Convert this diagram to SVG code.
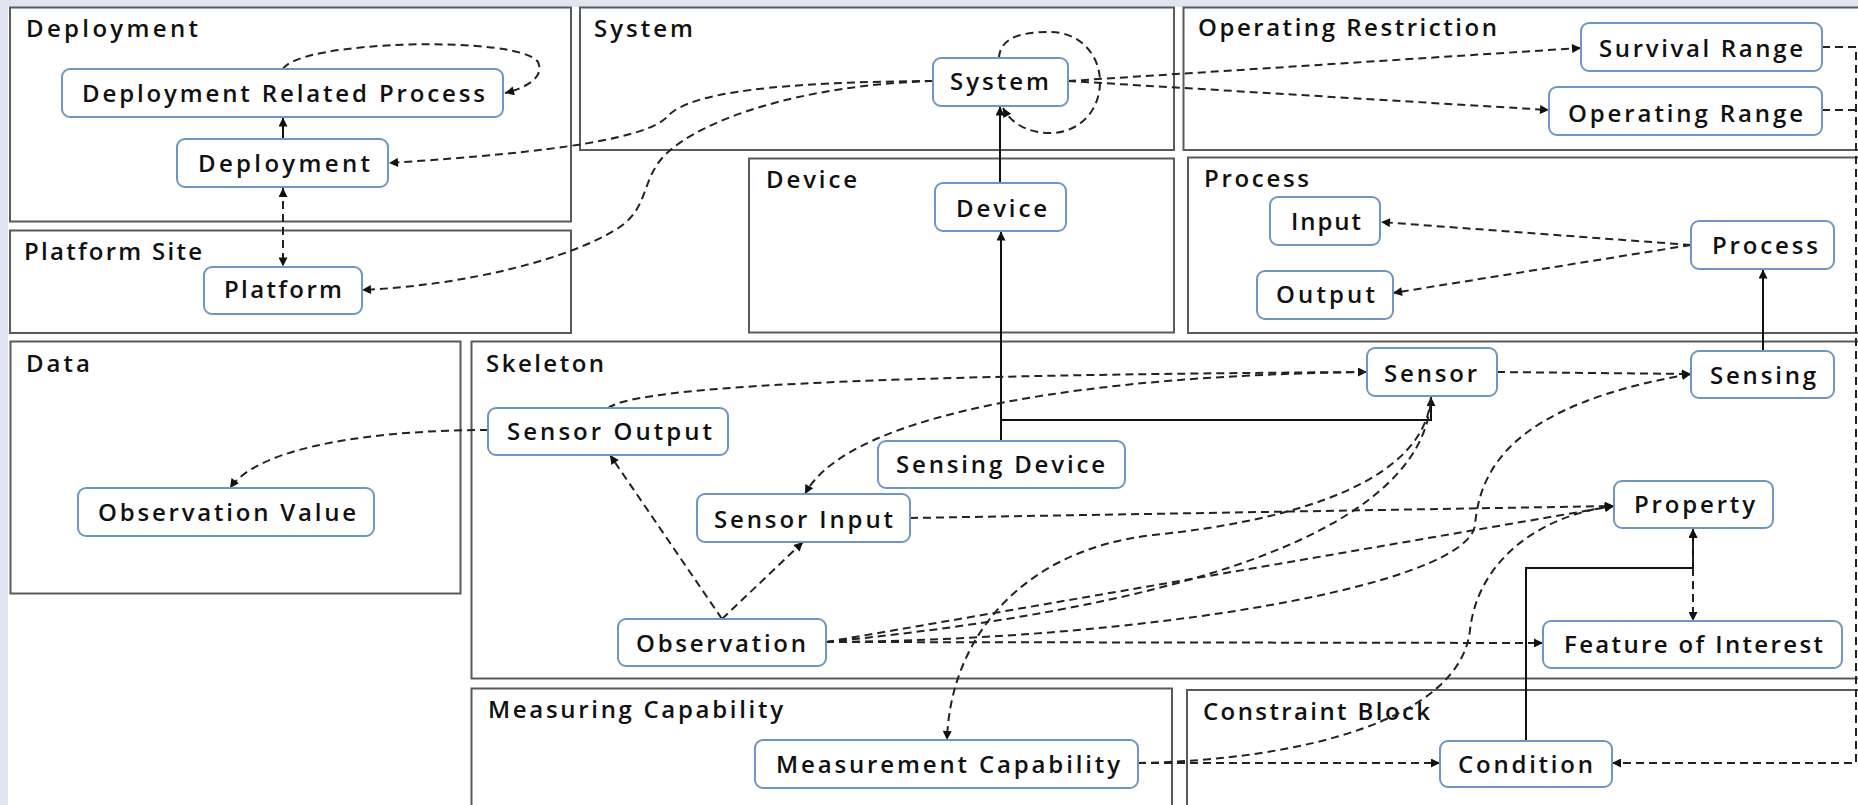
<svg xmlns="http://www.w3.org/2000/svg" width="1858" height="805" viewBox="0 0 1858 805">
<style>
.box{fill:none;stroke:#5a5a5a;stroke-width:2}
.lbl{font-family:"Open Sans","Liberation Sans",sans-serif;font-size:24px;font-weight:600;fill:#111}
.node rect{fill:#fff;stroke:#6f95c2;stroke-width:2}
.node text{font-family:"Open Sans","Liberation Sans",sans-serif;font-size:24px;font-weight:600;fill:#111}
.d{fill:none;stroke:#222;stroke-width:2;stroke-dasharray:8 5}
.s{fill:none;stroke:#111;stroke-width:2}
</style>
<defs>
<marker id="a" viewBox="0 0 10 10" refX="10" refY="5" markerWidth="11" markerHeight="9" markerUnits="userSpaceOnUse" orient="auto-start-reverse">
<path d="M0,0 L10,5 L0,10 z" fill="#111" stroke="none"/>
</marker>
</defs>
<rect x="0" y="0" width="1858" height="805" fill="#e2e5f0"/>
<rect x="8" y="7" width="1850" height="798" fill="#fff"/>
<g id="containers">
<rect class="box" x="10" y="7.5" width="561" height="214"/>
<text class="lbl" x="26" y="37" textLength="172" lengthAdjust="spacing">Deployment</text>
<rect class="box" x="10" y="230.5" width="561" height="102.5"/>
<text class="lbl" x="24" y="260" textLength="178" lengthAdjust="spacing">Platform Site</text>
<rect class="box" x="580" y="7.5" width="594" height="142.5"/>
<text class="lbl" x="594" y="37" textLength="99" lengthAdjust="spacing">System</text>
<rect class="box" x="749" y="158.5" width="425" height="174"/>
<text class="lbl" x="766" y="188" textLength="91" lengthAdjust="spacing">Device</text>
<rect class="box" x="1183.5" y="7.5" width="700" height="142.5"/>
<text class="lbl" x="1198" y="36" textLength="299" lengthAdjust="spacing">Operating Restriction</text>
<rect class="box" x="1188" y="157.5" width="700" height="175.5"/>
<text class="lbl" x="1204" y="187" textLength="105" lengthAdjust="spacing">Process</text>
<rect class="box" x="10.5" y="341.5" width="450" height="252"/>
<text class="lbl" x="26" y="372" textLength="64" lengthAdjust="spacing">Data</text>
<rect class="box" x="471.5" y="341.5" width="1420" height="337"/>
<text class="lbl" x="486" y="372" textLength="118" lengthAdjust="spacing">Skeleton</text>
<rect class="box" x="471.5" y="688.5" width="700.5" height="140"/>
<text class="lbl" x="488" y="718" textLength="295" lengthAdjust="spacing">Measuring Capability</text>
<rect class="box" x="1187" y="690" width="700" height="140"/>
<text class="lbl" x="1203" y="720" textLength="227" lengthAdjust="spacing">Constraint Block</text>
</g>
<g id="connectors">
<path class="d" d="M283,69 C300,40 520,35 538,62 C545,78 525,88 505,93" marker-end="url(#a)"/>
<path class="s" d="M283,139 V117.5" marker-end="url(#a)"/>
<path class="d" d="M283,188 V266.5" marker-start="url(#a)" marker-end="url(#a)"/>
<path class="d" d="M933,81 C780,82 690,92 668,116 C648,138 560,152 389,163" marker-end="url(#a)"/>
<path class="d" d="M933,81 C800,85 700,120 665,155 C640,180 650,210 615,230 C570,258 470,285 362,290" marker-end="url(#a)"/>
<path class="d" d="M999,58 C1000,34 1030,32 1050,32 C1080,32 1100,55 1100,82 C1100,110 1080,133 1050,133 C1030,133 1012,125 1003,108" marker-end="url(#a)"/>
<path class="s" d="M1000,183 V106.5" marker-end="url(#a)"/>
<path class="d" d="M1068,81 L1581,48" marker-end="url(#a)"/>
<path class="d" d="M1068,81 L1549,110" marker-end="url(#a)"/>
<path class="d" d="M1822,47 H1856 V763 H1612" marker-end="url(#a)"/>
<path class="d" d="M1822,110 H1856"/>
<path class="d" d="M1691,245 L1381,222" marker-end="url(#a)"/>
<path class="d" d="M1691,245 L1393,293" marker-end="url(#a)"/>
<path class="s" d="M1763,351 V269.5" marker-end="url(#a)"/>
<path class="s" d="M1001,441 V231.5" marker-end="url(#a)"/>
<path class="s" d="M1001,420 H1431 V397" marker-end="url(#a)"/>
<path class="d" d="M1497,372 L1691,374" marker-end="url(#a)"/>
<path class="d" d="M488,430 C380,430 260,445 230,488" marker-end="url(#a)"/>
<path class="d" d="M608,408 C640,385 900,375 1367,372" marker-end="url(#a)"/>
<path class="d" d="M1367,372 C1100,375 850,410 805,494" marker-end="url(#a)"/>
<path class="d" d="M722,619 L610,455" marker-end="url(#a)"/>
<path class="d" d="M722,619 L803,542" marker-end="url(#a)"/>
<path class="d" d="M910,518 L1614,506" marker-end="url(#a)"/>
<path class="d" d="M826,642 C1150,610 1425,540 1431,397"/>
<path class="d" d="M826,642 L1614,506" marker-end="url(#a)"/>
<path class="d" d="M826,642 C1150,640 1468,585 1475,525 C1480,470 1510,405 1691,374" marker-end="url(#a)"/>
<path class="d" d="M826,642 L1543,643" marker-end="url(#a)"/>
<path class="d" d="M1431,397 C1425,480 1300,520 1153,535 C1020,550 950,640 947,740" marker-end="url(#a)"/>
<path class="d" d="M1138,763 C1300,760 1460,720 1470,630 C1478,560 1540,515 1614,506" marker-end="url(#a)"/>
<path class="d" d="M1138,763 H1440" marker-end="url(#a)"/>
<path class="s" d="M1526,741 V568 H1693 V529" marker-end="url(#a)"/>
<path class="d" d="M1693,529 V621" marker-start="url(#a)" marker-end="url(#a)"/>
</g>
<g id="n-drp" class="node"><rect x="62" y="69" width="441" height="48" rx="8"/><text x="82" y="102" textLength="403" lengthAdjust="spacing">Deployment Related Process</text></g>
<g id="n-deployment" class="node"><rect x="177" y="139" width="211" height="48" rx="8"/><text x="198" y="172" textLength="172" lengthAdjust="spacing">Deployment</text></g>
<g id="n-platform" class="node"><rect x="204" y="267" width="158" height="47" rx="8"/><text x="224" y="298" textLength="118" lengthAdjust="spacing">Platform</text></g>
<g id="n-system" class="node"><rect x="933" y="58" width="135" height="48" rx="8"/><text x="950" y="90" textLength="99" lengthAdjust="spacing">System</text></g>
<g id="n-device" class="node"><rect x="935" y="183" width="131" height="48" rx="8"/><text x="956" y="217" textLength="91" lengthAdjust="spacing">Device</text></g>
<g id="n-survival" class="node"><rect x="1581" y="23" width="241" height="48" rx="8"/><text x="1599" y="57" textLength="204" lengthAdjust="spacing">Survival Range</text></g>
<g id="n-operating" class="node"><rect x="1549" y="87" width="273" height="48" rx="8"/><text x="1568" y="122" textLength="235" lengthAdjust="spacing">Operating Range</text></g>
<g id="n-input" class="node"><rect x="1270" y="197" width="110" height="48" rx="8"/><text x="1291" y="230" textLength="70" lengthAdjust="spacing">Input</text></g>
<g id="n-output" class="node"><rect x="1257" y="271" width="136" height="48" rx="8"/><text x="1276" y="303" textLength="99" lengthAdjust="spacing">Output</text></g>
<g id="n-process" class="node"><rect x="1691" y="221" width="143" height="48" rx="8"/><text x="1712" y="254" textLength="106" lengthAdjust="spacing">Process</text></g>
<g id="n-obsvalue" class="node"><rect x="78" y="488" width="296" height="48" rx="8"/><text x="98" y="521" textLength="258" lengthAdjust="spacing">Observation Value</text></g>
<g id="n-sensoroutput" class="node"><rect x="488" y="408" width="240" height="47" rx="8"/><text x="507" y="440" textLength="205" lengthAdjust="spacing">Sensor Output</text></g>
<g id="n-sensingdevice" class="node"><rect x="878" y="441" width="247" height="47" rx="8"/><text x="896" y="473" textLength="209" lengthAdjust="spacing">Sensing Device</text></g>
<g id="n-sensorinput" class="node"><rect x="697" y="494" width="213" height="48" rx="8"/><text x="714" y="528" textLength="179" lengthAdjust="spacing">Sensor Input</text></g>
<g id="n-observation" class="node"><rect x="618" y="619" width="208" height="47" rx="8"/><text x="636" y="652" textLength="170" lengthAdjust="spacing">Observation</text></g>
<g id="n-sensor" class="node"><rect x="1367" y="348" width="130" height="48" rx="8"/><text x="1384" y="382" textLength="93" lengthAdjust="spacing">Sensor</text></g>
<g id="n-sensing" class="node"><rect x="1691" y="351" width="143" height="47" rx="8"/><text x="1710" y="384" textLength="106" lengthAdjust="spacing">Sensing</text></g>
<g id="n-property" class="node"><rect x="1614" y="481" width="159" height="47" rx="8"/><text x="1634" y="513" textLength="121" lengthAdjust="spacing">Property</text></g>
<g id="n-foi" class="node"><rect x="1543" y="621" width="299" height="47" rx="8"/><text x="1564" y="653" textLength="259" lengthAdjust="spacing">Feature of Interest</text></g>
<g id="n-mc" class="node"><rect x="755" y="740" width="383" height="48" rx="8"/><text x="776" y="773" textLength="344" lengthAdjust="spacing">Measurement Capability</text></g>
<g id="n-condition" class="node"><rect x="1440" y="741" width="172" height="46" rx="8"/><text x="1458" y="773" textLength="135" lengthAdjust="spacing">Condition</text></g>
</svg>
